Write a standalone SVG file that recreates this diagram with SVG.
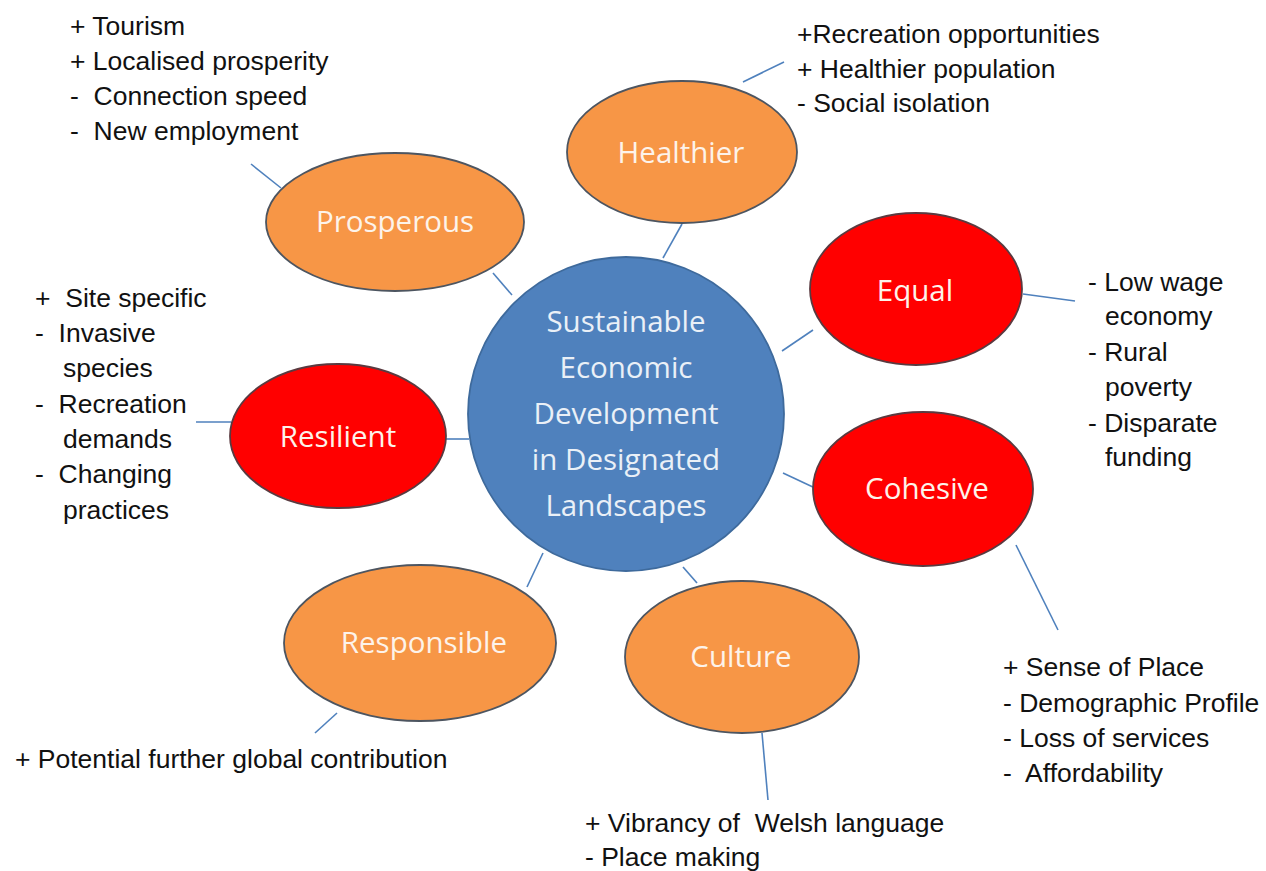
<svg xmlns="http://www.w3.org/2000/svg" width="1266" height="871" viewBox="0 0 1266 871">
<style>
.bg{fill:#ffffff}
.orange{fill:#f79646;stroke:#4d5560;stroke-width:1.8}
.red{fill:#ff0000;stroke:#5a3a40;stroke-width:1.8}
.hub{fill:#4f81bd;stroke:#3e6a9c;stroke-width:1.8}
.lbl{font-family:"Open Sans","Liberation Sans",sans-serif;font-size:29.5px;fill:#fdf3ea;text-anchor:middle}
.hubt{fill:#eaf0f7}
.note{font-family:"Liberation Sans",Arial,sans-serif;font-size:26.5px;fill:#111111;white-space:pre}
.conn line{stroke:#4f81bd;stroke-width:1.6}
</style>
<rect class="bg" x="0" y="0" width="1266" height="871"/>
<g id="connectors" class="conn">
<line x1="251" y1="164" x2="281" y2="188"/>
<line x1="493" y1="273" x2="512" y2="295"/>
<line x1="743" y1="82" x2="784" y2="62"/>
<line x1="682" y1="224" x2="663" y2="258"/>
<line x1="782" y1="351" x2="813" y2="330"/>
<line x1="1023" y1="294" x2="1075" y2="301"/>
<line x1="783" y1="473" x2="815" y2="488"/>
<line x1="1016" y1="545" x2="1058" y2="630"/>
<line x1="196" y1="422" x2="231" y2="422"/>
<line x1="446" y1="439" x2="469" y2="439"/>
<line x1="527" y1="587" x2="543" y2="553"/>
<line x1="315" y1="733" x2="337" y2="713"/>
<line x1="683" y1="567" x2="697" y2="583"/>
<line x1="762" y1="733" x2="768" y2="800"/>
</g>
<g id="hub">
<ellipse class="hub" cx="626" cy="414" rx="158" ry="157"/>
<text class="lbl hubt" x="626" y="332">Sustainable</text>
<text class="lbl hubt" x="626" y="378">Economic</text>
<text class="lbl hubt" x="626" y="424">Development</text>
<text class="lbl hubt" x="626" y="470">in Designated</text>
<text class="lbl hubt" x="626" y="516">Landscapes</text>
</g>
<g id="prosperous">
<ellipse class="orange" cx="395" cy="222" rx="129" ry="69"/>
<text class="lbl" x="395" y="232">Prosperous</text>
</g>
<g id="healthier">
<ellipse class="orange" cx="682" cy="152" rx="115" ry="71"/>
<text class="lbl" x="681" y="163">Healthier</text>
</g>
<g id="equal">
<ellipse class="red" cx="916" cy="289" rx="106" ry="76"/>
<text class="lbl" x="915" y="301">Equal</text>
</g>
<g id="cohesive">
<ellipse class="red" cx="923" cy="489" rx="110" ry="77"/>
<text class="lbl" x="927" y="499">Cohesive</text>
</g>
<g id="resilient">
<ellipse class="red" cx="338" cy="436" rx="108" ry="72"/>
<text class="lbl" x="338" y="447">Resilient</text>
</g>
<g id="responsible">
<ellipse class="orange" cx="420" cy="643" rx="136" ry="78"/>
<text class="lbl" x="424" y="653">Responsible</text>
</g>
<g id="culture">
<ellipse class="orange" cx="742" cy="657" rx="117" ry="76"/>
<text class="lbl" x="741" y="667">Culture</text>
</g>
<g id="notes">
<text class="note" x="70" y="35">+ Tourism</text>
<text class="note" x="70" y="70">+ Localised prosperity</text>
<text class="note" x="70" y="105">-  Connection speed</text>
<text class="note" x="70" y="140">-  New employment</text>
<text class="note" x="797" y="43">+Recreation opportunities</text>
<text class="note" x="797" y="78">+ Healthier population</text>
<text class="note" x="797" y="112">- Social isolation</text>
<text class="note" x="1088" y="291">- Low wage</text>
<text class="note" x="1105" y="325">economy</text>
<text class="note" x="1088" y="361">- Rural</text>
<text class="note" x="1105" y="396">poverty</text>
<text class="note" x="1088" y="432">- Disparate</text>
<text class="note" x="1105" y="466">funding</text>
<text class="note" x="35" y="307">+  Site specific</text>
<text class="note" x="35" y="342">-  Invasive</text>
<text class="note" x="63" y="377">species</text>
<text class="note" x="35" y="413">-  Recreation</text>
<text class="note" x="63" y="448">demands</text>
<text class="note" x="35" y="483">-  Changing</text>
<text class="note" x="63" y="519">practices</text>
<text class="note" x="15" y="768">+ Potential further global contribution</text>
<text class="note" x="585" y="832">+ Vibrancy of  Welsh language</text>
<text class="note" x="585" y="866">- Place making</text>
<text class="note" x="1003" y="676">+ Sense of Place</text>
<text class="note" x="1003" y="712">- Demographic Profile</text>
<text class="note" x="1003" y="747">- Loss of services</text>
<text class="note" x="1003" y="782">-  Affordability</text>
</g>
</svg>
